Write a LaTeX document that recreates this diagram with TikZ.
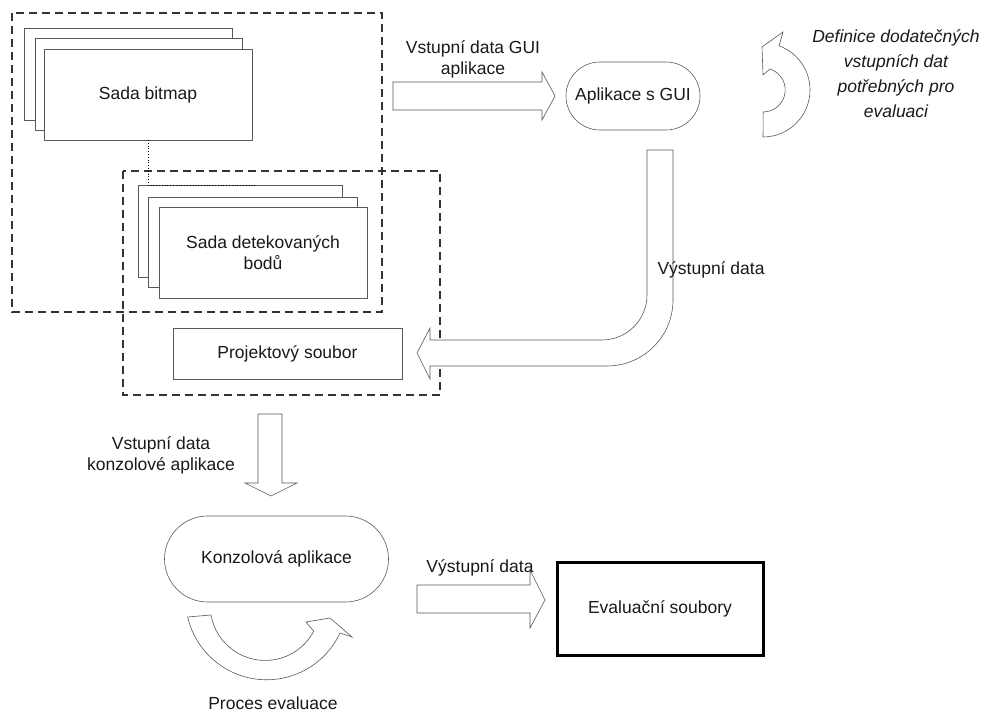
\documentclass[tikz,border=0pt]{standalone}
\usepackage{fontspec}
\setmainfont{Liberation Sans}
\begin{document}
\begin{tikzpicture}[x=1pt,y=1pt,
  every node/.style={font=\fontsize{17.5}{21}\selectfont, text=black!90},
  sheet/.style={draw=black!65, line width=0.6pt, fill=white, inner sep=0pt, outer sep=0pt},
  stadium/.style={draw=black!65, line width=0.6pt, fill=white, inner sep=0pt, outer sep=0pt},
  grp/.style={draw=black!80, line width=1.2pt, dash pattern=on 8pt off 5pt},
  blockarrow/.style={draw=black!65, line width=0.6pt, fill=white, line join=miter},
  lbl/.style={align=center, inner sep=0pt}
]
\useasboundingbox (0,0) rectangle (984,715);

% group boxes
\draw[grp] (12,702) rectangle (382,403);
\draw[grp] (123,544) rectangle (440,320);

% bitmap stack
\node[sheet, minimum width=208, minimum height=92] (bm3) at (128,641) {};
\node[sheet, minimum width=207, minimum height=92] (bm2) at (138.5,631) {};
\node[sheet, minimum width=208, minimum height=91] (bm) at (148,620.5) {Sada bitmap};

% detected points stack
\node[sheet, minimum width=204, minimum height=92] (dp3) at (240,484) {};
\node[sheet, minimum width=209, minimum height=90] (dp2) at (252.5,473) {};
\node[sheet, minimum width=208, minimum height=91, align=center] (dp) at (263,462.5) {Sada detekovaných\\bodů};

\coordinate (dc) at (255,530);
\draw[dotted, line width=0.8pt] (bm.south) |- (dc);

% project file
\node[sheet, minimum width=229, minimum height=51] (pf) at (287.5,361.5) {Projektový soubor};

% GUI application
\node[stadium, rounded corners=34pt, minimum width=134, minimum height=68] (gui) at (633,619) {Aplikace s GUI};

% arrow into GUI
\draw[blockarrow] (393,633) -- (542,633) -- (542,643) -- (555,619) -- (542,595) -- (542,605) -- (393,605) -- cycle;
\node[lbl] (lgui) at (473,656) {Vstupní data GUI\\aplikace};

% circular arrow right of GUI
\draw[blockarrow] (763,578) arc[start angle=-90, end angle=70, radius=47]
  -- (783,683) -- (762,668) -- (763,640) -- (770,646)
  arc[start angle=72, end angle=-90, radius=22] -- cycle;
\node[lbl, font=\fontsize{17.5}{25}\selectfont\itshape] (ldef) at (896,641)
  {Definice dodatečných\\vstupních dat\\potřebných pro\\evaluaci};

% bent output arrow
\draw[blockarrow] (647,565) -- (647,420) arc[start angle=0, end angle=-90, radius=45]
  -- (430,375) -- (430,387) -- (417,362) -- (430,336) -- (430,349) -- (607,349)
  arc[start angle=-90, end angle=0, radius=66] -- (673,565) -- cycle;
\node[lbl] (lout) at (711,445) {Výstupní data};

% down arrow
\draw[blockarrow] (258,301) -- (282,301) -- (282,232) -- (297,232) -- (271,219) -- (245,232) -- (258,232) -- cycle;
\node[lbl] (lcon) at (161,260) {Vstupní data\\konzolové aplikace};

% console application
\node[stadium, rounded corners=43pt, minimum width=224, minimum height=86] (con) at (276.5,156) {Konzolová aplikace};

% evaluation loop arrow
\draw[blockarrow] (211,100) arc[start angle=190, end angle=332, radius=55]
  -- (306,93) -- (330,97) -- (352,78) -- (340,82)
  arc[start angle=335, end angle=193, radius=81] -- cycle;
\node[lbl] (lproc) at (273,12) {Proces evaluace};

% output arrow to evaluation files
\draw[blockarrow] (417,130) -- (530,130) -- (530,145) -- (545,115) -- (530,87) -- (530,102) -- (417,102) -- cycle;
\node[lbl] (lout2) at (480,147) {Výstupní data};

\node[draw=black, line width=3pt, minimum width=206, minimum height=93, inner sep=0pt] (ev) at (660,106) {Evaluační soubory};
\end{tikzpicture}
\end{document}
